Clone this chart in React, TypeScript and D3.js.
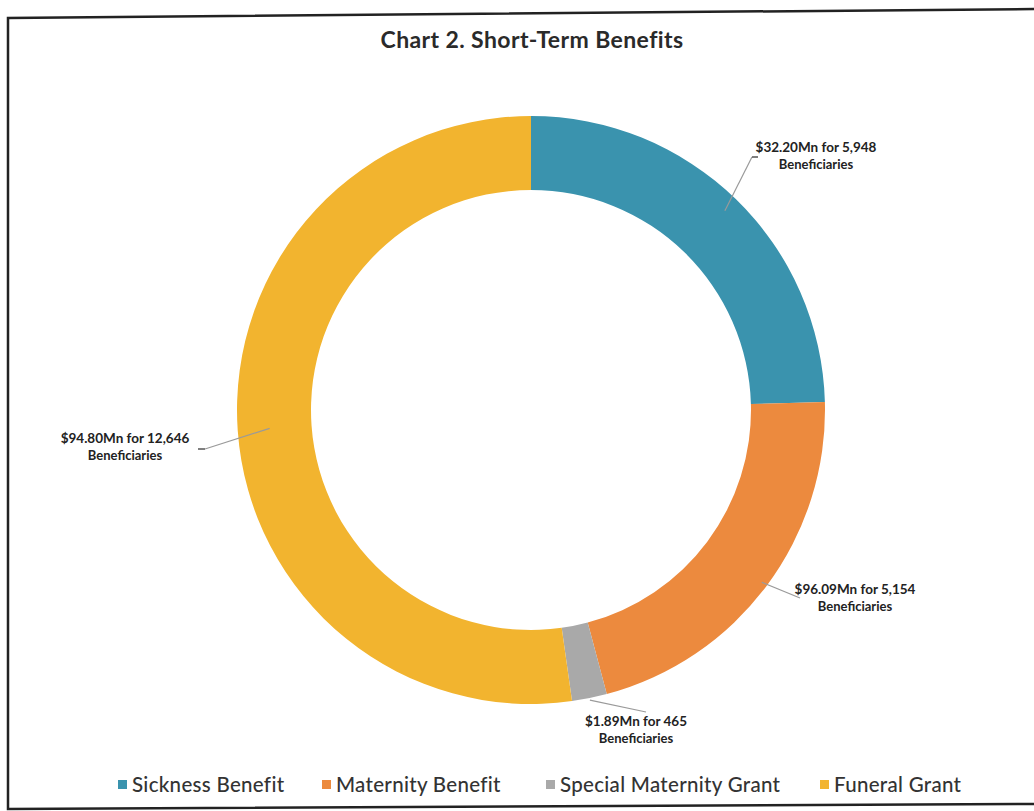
import React from "react";
import * as d3 from "d3";

const categories = ["Sickness Benefit", "Maternity Benefit", "Special Maternity Grant", "Funeral Grant"];
const beneficiaries = [5948, 5154, 465, 12646];
const amounts = ["$32.20Mn", "$96.09Mn", "$1.89Mn", "$94.80Mn"];
const colors = ["#3A93AE", "#EC8A3E", "#A9A9A9", "#F2B42F"];

const W = 1034;
const H = 811;
const cx = 531;
const cy = 410;
const outerR = 294;
const innerR = 220;

// label layout
const labelPos = [
  { x: 816, y: 152, r: 278, ex: 752, ey: 157, tick: [752, 157, 758, 157] },
  { x: 855, y: 594, r: 288, ex: 800, ey: 598, tick: null },
  { x: 636, y: 726, r: 296, ex: 646, ey: 712, tick: null },
  { x: 125, y: 443, r: 262, ex: 205, ey: 449, tick: [198, 449, 205, 449] },
];

export default function App() {
  const pie = d3.pie<number>().value((d) => d).sort(null);
  const arcs = pie(beneficiaries);
  const arc = d3.arc<d3.PieArcDatum<number>>().innerRadius(innerR).outerRadius(outerR);

  const legendX = [118, 322, 546, 820];

  return (
    <svg
      width={W}
      height={H}
      style={{ position: "absolute", left: 0, top: 0, background: "#fff" }}
      fontFamily="Lato, 'Open Sans', sans-serif"
    >
      <rect x={0} y={0} width={W} height={H} fill="#fff" />
      <path d="M1034,9 L8,18 L8,809 L1034,804" fill="none" stroke="#222" strokeWidth={2.5} />
      <text x={532} y={48} textAnchor="middle" fontSize={23} fontWeight={700} fill="#2a2a2a" letterSpacing={0.4}>
        Chart 2. Short-Term Benefits
      </text>
      <g transform={`translate(${cx},${cy})`}>
        {arcs.map((a, i) => (
          <path key={i} d={arc(a) || ""} fill={colors[i]} />
        ))}
      </g>
      {arcs.map((a, i) => {
        const lp = labelPos[i];
        const mid = (a.startAngle + a.endAngle) / 2;
        const sx = cx + lp.r * Math.sin(mid);
        const sy = cy - lp.r * Math.cos(mid);
        return (
          <g key={i}>
            <line x1={sx} y1={sy} x2={lp.ex} y2={lp.ey} stroke="#9a9a9a" strokeWidth={1.2} />
            {lp.tick && (
              <line x1={lp.tick[0]} y1={lp.tick[1]} x2={lp.tick[2]} y2={lp.tick[3]} stroke="#555" strokeWidth={1.5} />
            )}
            <text x={lp.x} y={lp.y} textAnchor="middle" fontSize={13.5} fontWeight={700} fill="#222">
              {`${amounts[i]} for ${d3.format(",")(beneficiaries[i])}`}
            </text>
            <text x={lp.x} y={lp.y + 17} textAnchor="middle" fontSize={13} fontWeight={700} fill="#222">
              Beneficiaries
            </text>
          </g>
        );
      })}
      {categories.map((c, i) => (
        <g key={c} transform={`translate(${legendX[i]},785)`}>
          <rect x={0} y={-5} width={9} height={9} fill={colors[i]} />
          <text x={14} y={7} fontSize={20.5} fontWeight={500} fill="#333" letterSpacing={0.3}>
            {c}
          </text>
        </g>
      ))}
    </svg>
  );
}
